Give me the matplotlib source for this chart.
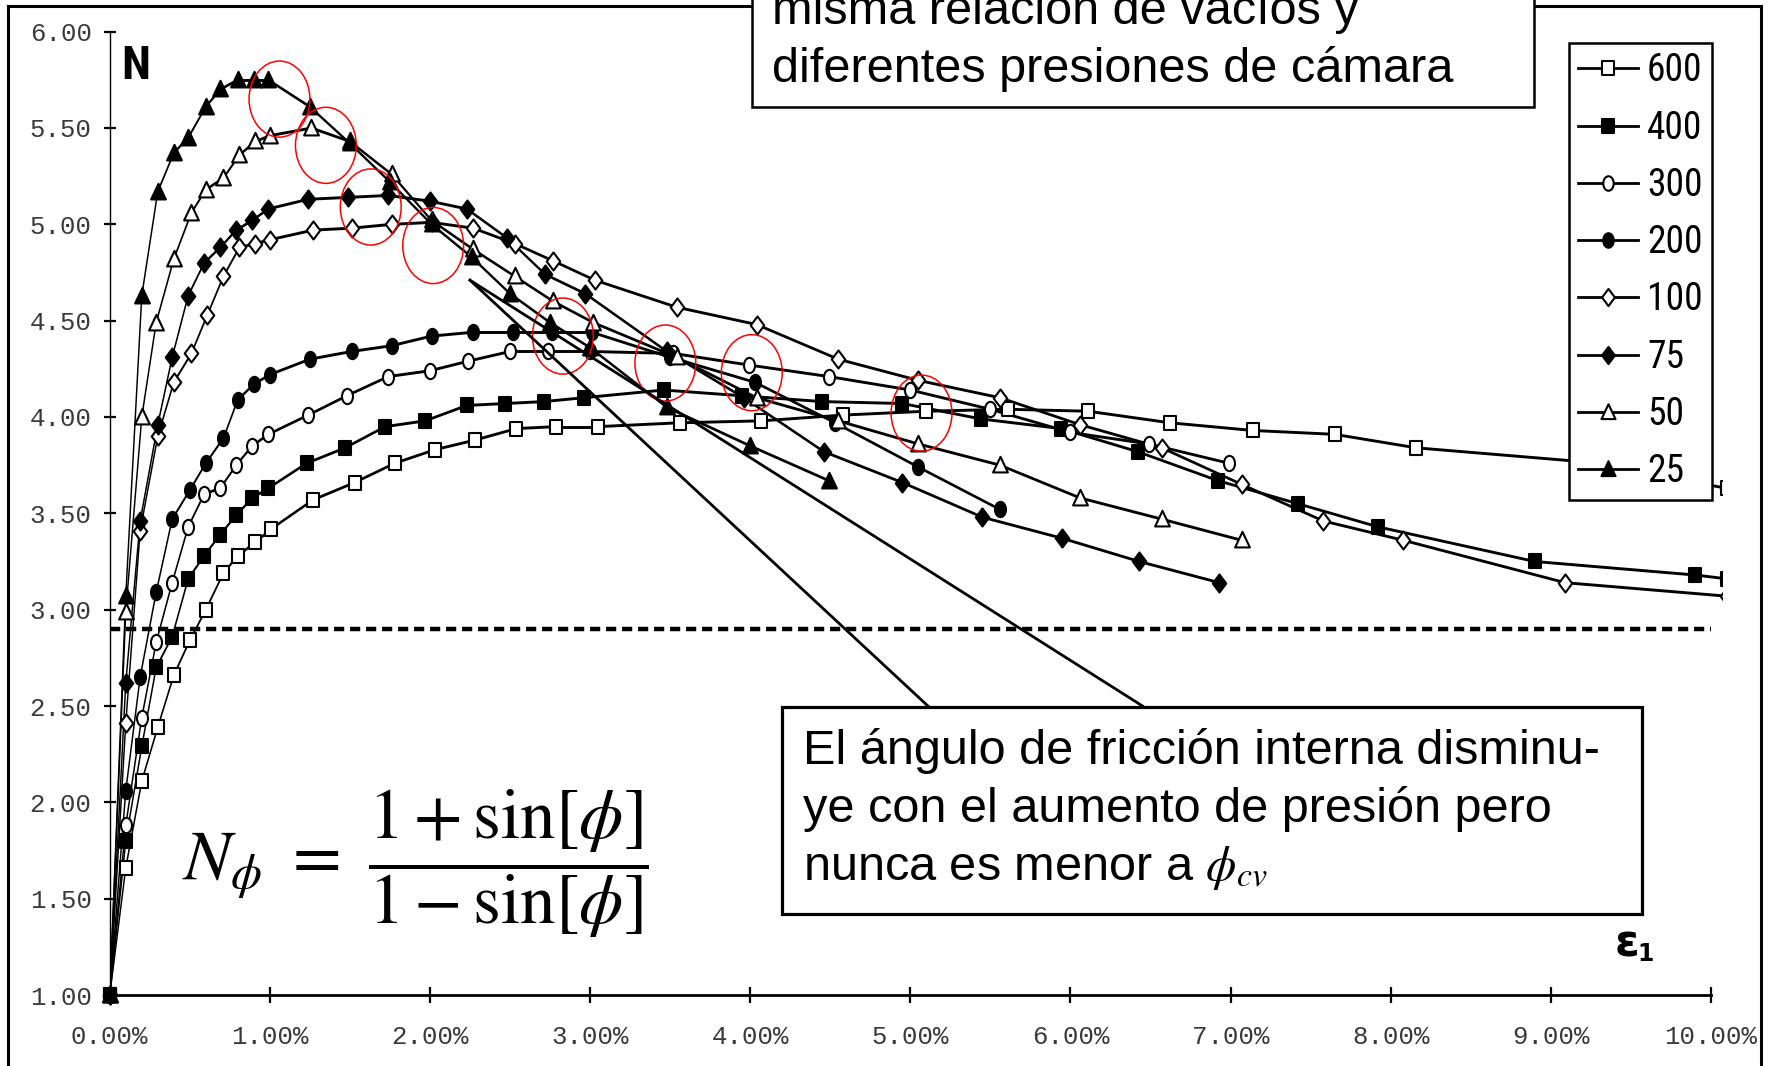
import numpy as np
import matplotlib
matplotlib.use('Agg')
import matplotlib.pyplot as plt
from matplotlib import font_manager
from matplotlib.collections import LineCollection
from matplotlib.lines import Line2D
from matplotlib.patches import Ellipse, Rectangle
from matplotlib.path import Path

plt.rcParams['mathtext.fontset'] = 'stix'

SANS = 'Liberation Sans'
MONO = 'Liberation Mono'

# the legend of the original is a squeezed (narrow) font, use a condensed face if there is one
names = sorted({f.name for f in font_manager.fontManager.ttflist})
NARROW = None
for cand in ['Liberation Sans Narrow', 'Roboto Condensed', 'Noto Sans Condensed',
             'Noto Sans SemiCondensed', 'DejaVu Sans Condensed', 'Open Sans Condensed']:
    if cand in names:
        NARROW = cand
        break
if NARROW is None:
    for n in names:
        if ('Condensed' in n or 'Narrow' in n) and 'Extra' not in n:
            NARROW = n
            break

# ---- data (axial strain in %, N = sigma1/sigma3) ----
labels = ['600', '400', '300', '200', '100', '75', '50', '25']

x600 = [0, 0.10, 0.20, 0.30, 0.40, 0.50, 0.60, 0.71, 0.80, 0.91, 1.01, 1.27, 1.53, 1.78, 2.03, 2.28,
        2.54, 2.79, 3.05, 3.56, 4.07, 4.58, 5.10, 5.61, 6.11, 6.62, 7.14, 7.65, 8.16, 9.17, 10.10]
y600 = [1.00, 1.66, 2.11, 2.39, 2.66, 2.84, 3.00, 3.19, 3.28, 3.35, 3.42, 3.57, 3.66, 3.76, 3.83, 3.88,
        3.94, 3.95, 3.95, 3.97, 3.98, 4.01, 4.03, 4.04, 4.03, 3.97, 3.93, 3.91, 3.84, 3.77, 3.63]

x400 = [0, 0.10, 0.20, 0.29, 0.39, 0.49, 0.59, 0.69, 0.79, 0.89, 0.99, 1.23, 1.47, 1.72, 1.97, 2.23,
        2.47, 2.71, 2.96, 3.46, 3.95, 4.45, 4.95, 5.44, 5.94, 6.42, 6.92, 7.42, 7.92, 8.90, 9.90, 10.10]
y400 = [1.00, 1.80, 2.29, 2.70, 2.86, 3.16, 3.28, 3.39, 3.49, 3.58, 3.63, 3.76, 3.84, 3.95, 3.98, 4.06,
        4.07, 4.08, 4.10, 4.14, 4.11, 4.08, 4.07, 3.99, 3.94, 3.82, 3.67, 3.55, 3.43, 3.25, 3.18, 3.16]

x300 = [0, 0.10, 0.20, 0.29, 0.39, 0.49, 0.59, 0.69, 0.79, 0.89, 0.99, 1.24, 1.48, 1.74, 2.00, 2.24,
        2.50, 2.74, 3.00, 3.52, 3.99, 4.49, 5.00, 5.50, 6.00, 6.49, 6.99]
y300 = [1.00, 1.88, 2.44, 2.83, 3.14, 3.43, 3.60, 3.63, 3.75, 3.85, 3.91, 4.01, 4.11, 4.21, 4.24, 4.29,
        4.34, 4.34, 4.34, 4.33, 4.27, 4.21, 4.14, 4.04, 3.92, 3.86, 3.76]

x200 = [0, 0.10, 0.19, 0.29, 0.39, 0.50, 0.60, 0.71, 0.80, 0.90, 1.00, 1.25, 1.51, 1.76, 2.01, 2.27,
        2.52, 2.76, 3.01, 3.50, 4.03, 4.53, 5.05, 5.56]
y200 = [1.00, 2.06, 2.65, 3.09, 3.47, 3.62, 3.76, 3.89, 4.09, 4.17, 4.22, 4.30, 4.34, 4.37, 4.42, 4.44,
        4.44, 4.44, 4.44, 4.31, 4.18, 3.97, 3.74, 3.52]

x100 = [0, 0.10, 0.19, 0.30, 0.40, 0.51, 0.61, 0.71, 0.81, 0.91, 1.00, 1.27, 1.51, 1.76, 2.01, 2.27,
        2.53, 2.77, 3.03, 3.54, 4.04, 4.55, 5.05, 5.56, 6.06, 6.57, 7.07, 7.58, 8.08, 9.09, 10.10]
y100 = [1.00, 2.41, 3.41, 3.90, 4.18, 4.33, 4.53, 4.73, 4.88, 4.90, 4.92, 4.97, 4.98, 5.00, 5.01, 4.98,
        4.90, 4.81, 4.71, 4.57, 4.48, 4.30, 4.19, 4.10, 3.96, 3.84, 3.65, 3.46, 3.36, 3.14, 3.07]

x75 = [0, 0.10, 0.19, 0.30, 0.39, 0.49, 0.59, 0.69, 0.79, 0.89, 0.99, 1.24, 1.49, 1.74, 2.00, 2.23,
       2.48, 2.72, 2.97, 3.48, 3.96, 4.46, 4.95, 5.45, 5.95, 6.43, 6.93]
y75 = [1.00, 2.62, 3.46, 3.96, 4.31, 4.63, 4.80, 4.88, 4.97, 5.02, 5.08, 5.13, 5.14, 5.15, 5.12, 5.08,
       4.93, 4.74, 4.64, 4.34, 4.10, 3.82, 3.66, 3.48, 3.37, 3.25, 3.14]

x50 = [0, 0.10, 0.20, 0.29, 0.40, 0.51, 0.60, 0.71, 0.81, 0.91, 1.00, 1.26, 1.50, 1.76, 2.01, 2.27,
       2.53, 2.77, 3.02, 3.54, 4.04, 4.55, 5.05, 5.56, 6.06, 6.57, 7.07]
y50 = [1.00, 2.99, 4.00, 4.49, 4.82, 5.06, 5.18, 5.24, 5.36, 5.43, 5.46, 5.50, 5.43, 5.26, 5.02, 4.87,
       4.73, 4.60, 4.49, 4.31, 4.10, 3.98, 3.86, 3.75, 3.58, 3.47, 3.36]

x25 = [0, 0.10, 0.20, 0.30, 0.40, 0.49, 0.60, 0.69, 0.80, 0.90, 0.99, 1.25, 1.50, 1.75, 2.01, 2.26,
       2.50, 2.75, 3.00, 3.48, 4.00, 4.49]
y25 = [1.00, 3.07, 4.63, 5.17, 5.37, 5.45, 5.61, 5.70, 5.75, 5.75, 5.75, 5.61, 5.42, 5.22, 5.00, 4.83,
       4.64, 4.49, 4.36, 4.05, 3.85, 3.67]

n_cv = 2.90  # dashed line

# red circles around the peak of each curve (strain %, N)
peak_x = [1.06, 1.35, 1.63, 2.02, 2.83, 3.47, 4.01, 5.07]
peak_y = [5.65, 5.41, 5.09, 4.89, 4.42, 4.28, 4.23, 4.02]

xticks = [0, 1, 2, 3, 4, 5, 6, 7, 8, 9, 10]
yticks = [1, 1.5, 2, 2.5, 3, 3.5, 4, 4.5, 5, 5.5, 6]

# ---- markers ----
sq = Path([(-0.85, -1), (0.85, -1), (0.85, 1), (-0.85, 1), (-0.85, -1)],
          [Path.MOVETO, Path.LINETO, Path.LINETO, Path.LINETO, Path.CLOSEPOLY])
uc = Path.unit_circle()
oval = Path(uc.vertices * [0.72, 1.0], uc.codes)
dia = Path([(0, -1), (0.75, 0), (0, 1), (-0.75, 0), (0, -1)],
           [Path.MOVETO, Path.LINETO, Path.LINETO, Path.LINETO, Path.CLOSEPOLY])
tri = Path([(0, 1), (0.85, -0.8), (-0.85, -0.8), (0, 1)],
           [Path.MOVETO, Path.LINETO, Path.LINETO, Path.CLOSEPOLY])

series = [
    (x600, y600, sq, 'white', 10.5),
    (x400, y400, sq, 'black', 10.5),
    (x300, y300, oval, 'white', 11),
    (x200, y200, oval, 'black', 11),
    (x100, y100, dia, 'white', 13),
    (x75, y75, dia, 'black', 13),
    (x50, y50, tri, 'white', 12.5),
    (x25, y25, tri, 'black', 12.5),
]

fig = plt.figure(figsize=(17.73, 10.66), dpi=100)
ax = fig.add_axes([0.0619, 0.0666, 0.9094, 0.9037])
ax.set_xlim(0, 10.07)
ax.set_ylim(1, 6)

LW = 2.1
SQUEEZE = 0.5
for x, y, mk, fc, ms in series:
    x = np.array(x)
    y = np.array(y)
    pts = ax.transData.transform(np.column_stack([x, y]))
    d = np.diff(pts, axis=0)
    phi = np.arctan2(d[:, 1], d[:, 0])
    widths = LW * np.sqrt(np.cos(phi) ** 2 + SQUEEZE ** 2 * np.sin(phi) ** 2)
    segs = np.stack([np.column_stack([x[:-1], y[:-1]]), np.column_stack([x[1:], y[1:]])], axis=1)
    ax.add_collection(LineCollection(segs, colors='black', linewidths=widths, capstyle='round', zorder=3))
    ax.plot(x, y, linestyle='none', marker=mk, ms=ms, mfc=fc, mec='black', mew=1.5, zorder=4)
    # the start point sits on the axis corner, keep it whole
    ax.plot(x[:1], y[:1], linestyle='none', marker=mk, ms=ms, mfc=fc, mec='black', mew=1.5,
            zorder=4, clip_on=False)

ax.plot([0, 10], [n_cv, n_cv], color='black', lw=3.2, linestyle=(0, (2.3, 1.3)), zorder=2)

for cx, cy in zip(peak_x, peak_y):
    ax.add_patch(Ellipse((cx, cy), 0.38, 0.395, fill=False, edgecolor='red', lw=1.1, zorder=5))

# pointer lines to the note box
ax.plot([2.25, 5.11], [4.71, 2.50], color='black', lw=2.0, zorder=5)
ax.plot([2.25, 6.45], [4.71, 2.50], color='black', lw=2.0, zorder=5)

for s in ['top', 'right']:
    ax.spines[s].set_visible(False)
ax.spines['bottom'].set_bounds(0, 10)
ax.spines['bottom'].set_linewidth(2.0)
ax.spines['left'].set_bounds(1, 6)
ax.spines['left'].set_linewidth(1.0)

ax.set_xticks(xticks, [f'{v:.2f}%' for v in xticks], fontfamily=MONO, fontsize=18.5, color='#3a3a3a')
ax.set_yticks(yticks, [f'{v:.2f}' for v in yticks], fontfamily=MONO, fontsize=18.5, color='#3a3a3a')
ax.tick_params(axis='x', direction='inout', length=11, width=1.6, pad=16)
ax.tick_params(axis='y', direction='inout', length=8, width=1.6, pad=9)

# legend
if NARROW:
    leg_size = 27
    leg_prop = {'family': NARROW, 'size': leg_size}
    leg_space = 0.54
else:
    leg_size = 21.5
    leg_prop = {'family': SANS, 'size': leg_size}
    leg_space = 0.99
handles = [Line2D([], [], color='black', lw=2.0, marker=mk, ms=ms * 0.95, mfc=fc, mec='black', mew=1.5)
           for _, _, mk, fc, ms in series]
leg = ax.legend(handles, labels, loc='upper right', bbox_to_anchor=(1712 / 1773, 1 - 43 / 1066),
                bbox_transform=fig.transFigure, prop=leg_prop,
                frameon=True, fancybox=False, framealpha=1, edgecolor='black', borderaxespad=0,
                handlelength=60 / (leg_size * 1.389), handletextpad=9 / (leg_size * 1.389),
                labelspacing=leg_space, borderpad=9.4 / (leg_size * 1.389))
leg.get_frame().set_linewidth(1.8)
leg.set_zorder(10)

# outer frame
fig.add_artist(Rectangle((8 / 1773, -0.05), 0.9887, 1.0444, transform=fig.transFigure,
                         fill=False, edgecolor='black', lw=2.2, zorder=0))

# header box (cut at top)
fig.add_artist(Rectangle((0.4241, 0.8992), 0.4411, 0.15, transform=fig.transFigure,
                         facecolor='white', edgecolor='black', lw=1.8, zorder=8))
fig.text(0.4354, 1 - 24 / 1066, 'misma relación de vacíos y', family=SANS, fontsize=35,
         va='baseline', ha='left', zorder=9)
fig.text(0.4354, 1 - 82 / 1066, 'diferentes presiones de cámara', family=SANS, fontsize=35,
         va='baseline', ha='left', zorder=9)

# note box
fig.add_artist(Rectangle((0.4413, 0.1430), 0.4847, 0.1940, transform=fig.transFigure,
                         facecolor='white', edgecolor='black', lw=2.3, zorder=8))
note = ['El ángulo de fricción interna disminu-',
        'ye con el aumento de presión pero',
        r'nunca es menor a $\phi_{cv}$']
for i, line in enumerate(note):
    fig.text(0.4528, 1 - (764 + 58 * i) / 1066, line, family=SANS, fontsize=35,
             va='baseline', ha='left', zorder=9)

# formula
fig.text(0.2345, 0.1900, r'$N_{\phi}\ =\ \dfrac{1 + \sin[\phi]}{1 - \sin[\phi]}$', fontsize=51,
         ha='center', va='center')

# axis names
fig.text(0.0765, 0.9385, 'N', family=NARROW or SANS, fontweight='bold', fontsize=34,
         ha='center', va='center')
fig.text(0.9179, 0.1149, 'ε', fontweight='bold', fontsize=32, ha='center', va='center')
fig.text(0.9284, 0.1051, '1', fontweight='bold', fontsize=17, ha='center', va='center')

fig.savefig('out.png', dpi=100)
